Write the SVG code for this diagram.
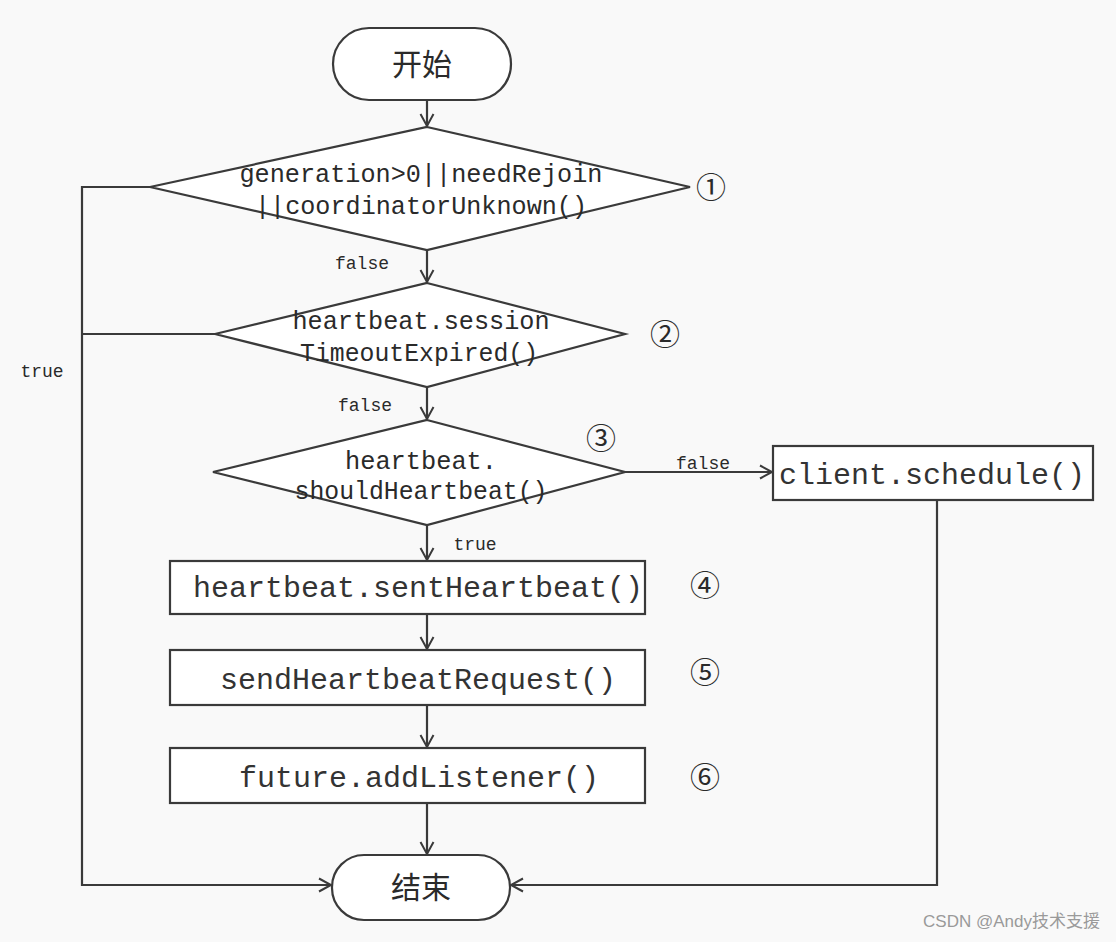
<svg xmlns="http://www.w3.org/2000/svg" width="1116" height="942" viewBox="0 0 1116 942">
<style>
.shape{fill:#ffffff;stroke:#3a3a3a;stroke-width:2.2}
.line{fill:none;stroke:#3a3a3a;stroke-width:2.2}
.cn{font-family:"Noto Sans CJK SC","Noto Sans",sans-serif;font-size:30px;fill:#2a2a2a;text-anchor:middle}
.cond{font-family:"Liberation Mono","DejaVu Sans Mono",monospace;font-size:26px;fill:#2a2a2a;text-anchor:middle}
.box{font-family:"Liberation Mono","DejaVu Sans Mono",monospace;font-size:30px;fill:#333333;text-anchor:middle}
.lbl{font-family:"Liberation Mono","DejaVu Sans Mono",monospace;font-size:18px;fill:#2a2a2a;text-anchor:middle}
.num{font-family:"Noto Sans CJK SC","DejaVu Sans",sans-serif;font-size:30px;fill:#2a2a2a;text-anchor:middle}
.wm{font-family:"Liberation Sans","Noto Sans CJK SC",sans-serif;font-size:17px;fill:#9a9a9a;text-anchor:end}
</style>
<defs>
<marker id="arr" markerWidth="16" markerHeight="16" refX="13" refY="8" orient="auto" markerUnits="userSpaceOnUse">
<path d="M1,1.5 L13,8 L1,14.5" fill="none" stroke="#3a3a3a" stroke-width="2"/>
</marker>
</defs>
<rect x="0" y="0" width="1116" height="942" fill="#f9f9f9"/>

<g id="connectors">
<path class="line" d="M427,100 L427,126" marker-end="url(#arr)"/>
<path class="line" d="M427,250 L427,282" marker-end="url(#arr)"/>
<path class="line" d="M427,387 L427,419" marker-end="url(#arr)"/>
<path class="line" d="M427,525 L427,560" marker-end="url(#arr)"/>
<path class="line" d="M427,614 L427,649" marker-end="url(#arr)"/>
<path class="line" d="M427,705 L427,747" marker-end="url(#arr)"/>
<path class="line" d="M427,803 L427,854" marker-end="url(#arr)"/>
<path class="line" d="M625,472 L772,472" marker-end="url(#arr)"/>
<path class="line" d="M150,187 L82,187 L82,885 L331,885" marker-end="url(#arr)"/>
<path class="line" d="M215,334 L82,334"/>
<path class="line" d="M937,500 L937,885 L511,885" marker-end="url(#arr)"/>
<text class="lbl" x="362" y="269">false</text>
<text class="lbl" x="365" y="411">false</text>
<text class="lbl" x="703" y="469">false</text>
<text class="lbl" x="475" y="550">true</text>
<text class="lbl" x="42" y="377">true</text>
</g>

<g id="start">
<rect class="shape" x="333" y="28" width="178" height="72" rx="36" ry="36"/>
<text class="cn" x="422" y="75">开始</text>
</g>

<g id="cond1">
<polygon class="shape" points="427,127 690,187 427,250 150,187"/>
<text class="cond" x="421" y="182" textLength="363" lengthAdjust="spacingAndGlyphs">generation&gt;0||needRejoin</text>
<text class="cond" x="421" y="214" textLength="332" lengthAdjust="spacingAndGlyphs">||coordinatorUnknown()</text>
<text class="num" x="711" y="198">①</text>
</g>

<g id="cond2">
<polygon class="shape" points="427,283 625,334 427,387 215,334"/>
<text class="cond" x="421" y="329" textLength="257" lengthAdjust="spacingAndGlyphs">heartbeat.session</text>
<text class="cond" x="419" y="361" textLength="238" lengthAdjust="spacingAndGlyphs">TimeoutExpired()</text>
<text class="num" x="665" y="345">②</text>
</g>

<g id="cond3">
<polygon class="shape" points="427,420 625,472 427,525 213,472"/>
<text class="cond" x="421" y="469" textLength="152" lengthAdjust="spacingAndGlyphs">heartbeat.</text>
<text class="cond" x="421" y="499" textLength="253" lengthAdjust="spacingAndGlyphs">shouldHeartbeat()</text>
<text class="num" x="601" y="449">③</text>
</g>

<g id="schedule">
<rect class="shape" x="773" y="446" width="320" height="54"/>
<text class="box" x="932" y="484">client.schedule()</text>
</g>

<g id="step4">
<rect class="shape" x="170" y="561" width="475" height="53"/>
<text class="box" x="418" y="597">heartbeat.sentHeartbeat()</text>
<text class="num" x="705" y="596">④</text>
</g>

<g id="step5">
<rect class="shape" x="170" y="650" width="475" height="55"/>
<text class="box" x="418" y="689">sendHeartbeatRequest()</text>
<text class="num" x="705" y="683">⑤</text>
</g>

<g id="step6">
<rect class="shape" x="170" y="748" width="475" height="55"/>
<text class="box" x="419" y="787">future.addListener()</text>
<text class="num" x="705" y="788">⑥</text>
</g>

<g id="end">
<rect class="shape" x="332" y="855" width="178" height="65" rx="32" ry="32"/>
<text class="cn" x="421" y="898">结束</text>
</g>

<text class="wm" x="1100" y="927">CSDN @Andy技术支援</text>
</svg>
